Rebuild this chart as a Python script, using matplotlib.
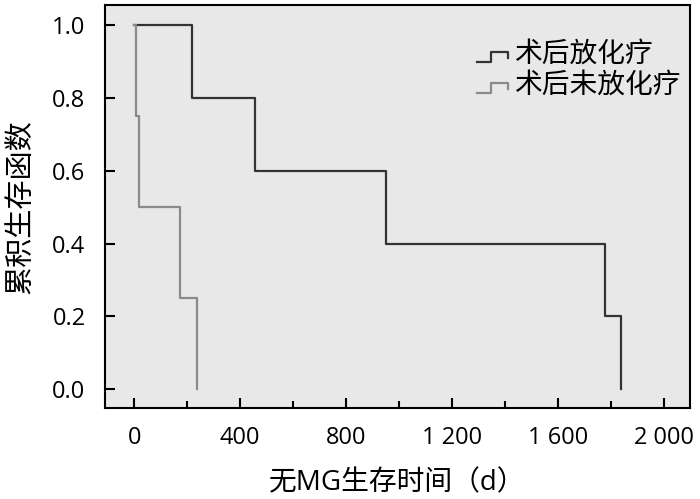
import matplotlib
matplotlib.use('Agg')
import matplotlib.pyplot as plt
from matplotlib.legend_handler import HandlerBase
from matplotlib.lines import Line2D
from matplotlib.ticker import MultipleLocator, FuncFormatter

plt.rcParams['font.family'] = ['Open Sans', 'Noto Sans CJK SC', 'DejaVu Sans']

# survival data (time in days, cumulative survival)
t_treated = [0, 220, 455, 950, 1780, 1840]
s_treated = [1.0, 0.8, 0.6, 0.4, 0.2, 0.0]
t_untreated = [0, 6, 19, 175, 237]
s_untreated = [1.0, 0.75, 0.5, 0.25, 0.0]
labels = ['术后放化疗', '术后未放化疗']
colors = ['#333333', '#8a8a8a']


# step shaped legend icon
class StepHandler(HandlerBase):
    def create_artists(self, legend, orig_handle, xdescent, ydescent,
                       width, height, fontsize, trans):
        x0 = -xdescent
        y0 = -ydescent
        xs = [x0, x0 + 0.45 * width, x0 + 0.45 * width, x0 + width, x0 + width]
        ys = [y0 + 0.0 * height, y0 + 0.0 * height, y0 + 0.5 * height,
              y0 + 0.5 * height, y0 + 0.2 * height]
        ln = Line2D(xs, ys, color=orig_handle.get_color(),
                    linewidth=orig_handle.get_linewidth(), transform=trans)
        return [ln]


fig = plt.figure(figsize=(7, 4.99), dpi=100)
ax = fig.add_axes([0.15, 0.182, 0.836, 0.808])
ax.set_facecolor('#e8e8e8')

l1, = ax.step(t_treated, s_treated, where='post', color=colors[0], lw=1.6)
l2, = ax.step(t_untreated, s_untreated, where='post', color=colors[1], lw=1.6)

ax.set_xlim(-110, 2100)
ax.set_ylim(-0.052, 1.055)
ax.xaxis.set_major_locator(MultipleLocator(400))
ax.xaxis.set_minor_locator(MultipleLocator(200))
ax.yaxis.set_major_locator(MultipleLocator(0.2))
ax.xaxis.set_major_formatter(FuncFormatter(lambda v, p: f'{int(v):,}'.replace(',', ' ')))
ax.yaxis.set_major_formatter(FuncFormatter(lambda v, p: f'{v:.1f}'))
ax.tick_params(which='both', direction='in', width=1.5, labelsize=17)
ax.tick_params(which='major', length=7)
ax.tick_params(which='minor', length=5)
ax.tick_params(axis='x', pad=13)
ax.tick_params(axis='y', pad=14)
for sp in ax.spines.values():
    sp.set_linewidth(1.5)

ax.set_xlabel('无MG生存时间（d）', fontsize=20, labelpad=14)
ax.set_ylabel('累积生存函数', fontsize=21, labelpad=12)

ax.legend([l1, l2], labels, handler_map={Line2D: StepHandler()},
          loc='upper left', bbox_to_anchor=(477 / 700, 1 - 41 / 499),
          bbox_transform=fig.transFigure, frameon=False, borderpad=0,
          borderaxespad=0, fontsize=20, handlelength=1.1, handletextpad=0.25,
          labelspacing=0.1)

fig.savefig('out.png', dpi=100)
